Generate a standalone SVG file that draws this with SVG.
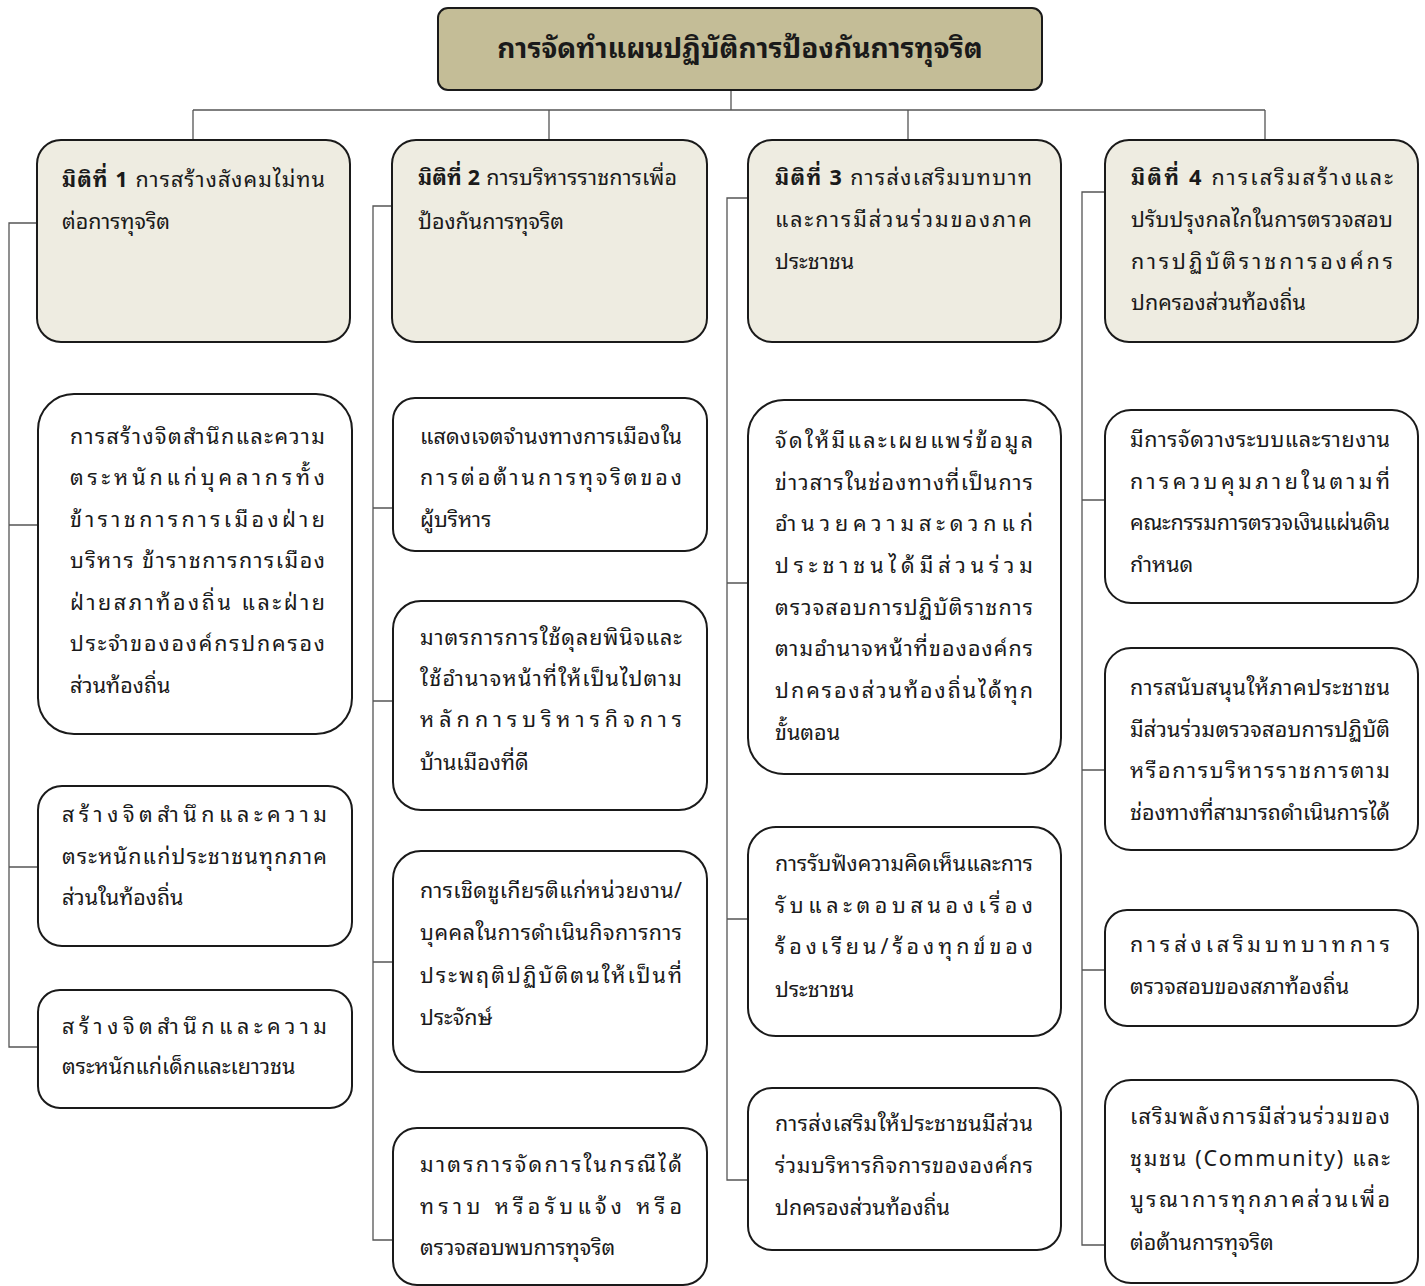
<svg xmlns="http://www.w3.org/2000/svg" width="1425" height="1286" viewBox="0 0 1425 1286">
<style>
text{font-family:"Noto Sans Thai Looped","Tahoma","Noto Sans Thai","Noto Sans Thai UI","Loma","Garuda","Noto Sans",sans-serif;font-size:21.5px;fill:#1a1a1a}
.title{font-size:28px;font-weight:bold;text-anchor:middle}
.b{font-weight:bold}
.hdr{fill:#EEECE1;stroke:#1a1a1a;stroke-width:2}
.box{fill:#ffffff;stroke:#1a1a1a;stroke-width:2}
.top{fill:#C4BD97;stroke:#1a1a1a;stroke-width:2}
.conn{fill:none;stroke:#555555;stroke-width:1.3}
</style>
<g id="connectors" class="conn">
<path d="M731 90V110M193 110H1265M193 110V140M549 110V140M908 110V140M1265 110V140"/>
<path d="M37 223H9V1047H38M9 525H38M9 867H38"/>
<path d="M392 206H373V1240H393M373 508H393M373 701H393M373 962H393"/>
<path d="M748 198H727V1180H748M727 583H748M727 919H748"/>
<path d="M1105 192H1082V1245H1105M1082 500H1105M1082 770H1105M1082 970H1105"/>
</g>
<g id="title"><rect class="top" x="438" y="8" width="604" height="82" rx="10"/><text class="title" x="740" y="58">การจัดทำแผนปฏิบัติการป้องกันการทุจริต</text></g>

<g id="h1"><rect class="hdr" x="37" y="140" width="313" height="202" rx="24"/>
<text x="62" y="187" textLength="263" lengthAdjust="spacing"><tspan class="b">มิติที่ 1</tspan> การสร้างสังคมไม่ทน</text>
<text x="62" y="229">ต่อการทุจริต</text></g>
<g id="h2"><rect class="hdr" x="392" y="140" width="315" height="202" rx="24"/>
<text x="418" y="185" textLength="259" lengthAdjust="spacing"><tspan class="b">มิติที่ 2</tspan> การบริหารราชการเพื่อ</text>
<text x="418" y="229">ป้องกันการทุจริต</text></g>
<g id="h3"><rect class="hdr" x="748" y="140" width="313" height="202" rx="24"/>
<text x="775" y="185" textLength="257" lengthAdjust="spacing"><tspan class="b">มิติที่ 3</tspan> การส่งเสริมบทบาท</text>
<text x="775" y="227" textLength="257" lengthAdjust="spacing">และการมีส่วนร่วมของภาค</text>
<text x="775" y="269">ประชาชน</text></g>
<g id="h4"><rect class="hdr" x="1105" y="140" width="313" height="202" rx="24"/>
<text x="1131" y="185" textLength="262" lengthAdjust="spacing"><tspan class="b">มิติที่ 4</tspan> การเสริมสร้างและ</text>
<text x="1131" y="227" textLength="262" lengthAdjust="spacing">ปรับปรุงกลไกในการตรวจสอบ</text>
<text x="1131" y="269" textLength="262" lengthAdjust="spacing">การปฏิบัติราชการองค์กร</text>
<text x="1131" y="310">ปกครองส่วนท้องถิ่น</text></g>

<g id="c1b1"><rect class="box" x="38" y="394" width="314" height="340" rx="36"/>
<text x="70" y="444" textLength="255" lengthAdjust="spacing">การสร้างจิตสำนึกและความ</text>
<text x="70" y="485" textLength="255" lengthAdjust="spacing">ตระหนักแก่บุคลากรทั้ง</text>
<text x="70" y="527" textLength="255" lengthAdjust="spacing">ข้าราชการการเมืองฝ่าย</text>
<text x="70" y="568" textLength="255" lengthAdjust="spacing">บริหาร ข้าราชการการเมือง</text>
<text x="70" y="610" textLength="255" lengthAdjust="spacing">ฝ่ายสภาท้องถิ่น และฝ่าย</text>
<text x="70" y="651" textLength="255" lengthAdjust="spacing">ประจำขององค์กรปกครอง</text>
<text x="70" y="693">ส่วนท้องถิ่น</text></g>
<g id="c1b2"><rect class="box" x="38" y="786" width="314" height="160" rx="24"/>
<text x="62" y="822" textLength="265" lengthAdjust="spacing">สร้างจิตสำนึกและความ</text>
<text x="62" y="864" textLength="265" lengthAdjust="spacing">ตระหนักแก่ประชาชนทุกภาค</text>
<text x="62" y="905">ส่วนในท้องถิ่น</text></g>
<g id="c1b3"><rect class="box" x="38" y="990" width="314" height="118" rx="22"/>
<text x="62" y="1034" textLength="265" lengthAdjust="spacing">สร้างจิตสำนึกและความ</text>
<text x="62" y="1074">ตระหนักแก่เด็กและเยาวชน</text></g>

<g id="c2b1"><rect class="box" x="393" y="398" width="314" height="153" rx="22"/>
<text x="420" y="444" textLength="262" lengthAdjust="spacing">แสดงเจตจำนงทางการเมืองใน</text>
<text x="420" y="485" textLength="262" lengthAdjust="spacing">การต่อต้านการทุจริตของ</text>
<text x="420" y="527">ผู้บริหาร</text></g>
<g id="c2b2"><rect class="box" x="393" y="601" width="314" height="209" rx="28"/>
<text x="420" y="645" textLength="262" lengthAdjust="spacing">มาตรการการใช้ดุลยพินิจและ</text>
<text x="420" y="686" textLength="262" lengthAdjust="spacing">ใช้อำนาจหน้าที่ให้เป็นไปตาม</text>
<text x="420" y="727" textLength="262" lengthAdjust="spacing">หลักการบริหารกิจการ</text>
<text x="420" y="770">บ้านเมืองที่ดี</text></g>
<g id="c2b3"><rect class="box" x="393" y="851" width="314" height="221" rx="28"/>
<text x="420" y="898" textLength="262" lengthAdjust="spacing">การเชิดชูเกียรติแก่หน่วยงาน/</text>
<text x="420" y="940" textLength="262" lengthAdjust="spacing">บุคคลในการดำเนินกิจการการ</text>
<text x="420" y="983" textLength="262" lengthAdjust="spacing">ประพฤติปฏิบัติตนให้เป็นที่</text>
<text x="420" y="1025">ประจักษ์</text></g>
<g id="c2b4"><rect class="box" x="393" y="1128" width="314" height="157" rx="24"/>
<text x="420" y="1172" textLength="262" lengthAdjust="spacing">มาตรการจัดการในกรณีได้</text>
<text x="420" y="1214" textLength="262" lengthAdjust="spacing">ทราบ หรือรับแจ้ง หรือ</text>
<text x="420" y="1255">ตรวจสอบพบการทุจริต</text></g>

<g id="c3b1"><rect class="box" x="748" y="400" width="313" height="374" rx="36"/>
<text x="775" y="448" textLength="258" lengthAdjust="spacing">จัดให้มีและเผยแพร่ข้อมูล</text>
<text x="775" y="490" textLength="258" lengthAdjust="spacing">ข่าวสารในช่องทางที่เป็นการ</text>
<text x="775" y="531" textLength="258" lengthAdjust="spacing">อำนวยความสะดวกแก่</text>
<text x="775" y="573" textLength="258" lengthAdjust="spacing">ประชาชนได้มีส่วนร่วม</text>
<text x="775" y="615" textLength="258" lengthAdjust="spacing">ตรวจสอบการปฏิบัติราชการ</text>
<text x="775" y="656" textLength="258" lengthAdjust="spacing">ตามอำนาจหน้าที่ขององค์กร</text>
<text x="775" y="698" textLength="258" lengthAdjust="spacing">ปกครองส่วนท้องถิ่นได้ทุก</text>
<text x="775" y="740">ขั้นตอน</text></g>
<g id="c3b2"><rect class="box" x="748" y="827" width="313" height="209" rx="28"/>
<text x="775" y="871" textLength="258" lengthAdjust="spacing">การรับฟังความคิดเห็นและการ</text>
<text x="775" y="913" textLength="258" lengthAdjust="spacing">รับและตอบสนองเรื่อง</text>
<text x="775" y="954" textLength="258" lengthAdjust="spacing">ร้องเรียน/ร้องทุกข์ของ</text>
<text x="775" y="997">ประชาชน</text></g>
<g id="c3b3"><rect class="box" x="748" y="1088" width="313" height="162" rx="24"/>
<text x="775" y="1131" textLength="258" lengthAdjust="spacing">การส่งเสริมให้ประชาชนมีส่วน</text>
<text x="775" y="1173" textLength="258" lengthAdjust="spacing">ร่วมบริหารกิจการขององค์กร</text>
<text x="775" y="1215">ปกครองส่วนท้องถิ่น</text></g>

<g id="c4b1"><rect class="box" x="1105" y="410" width="313" height="193" rx="26"/>
<text x="1130" y="447" textLength="260" lengthAdjust="spacing">มีการจัดวางระบบและรายงาน</text>
<text x="1130" y="489" textLength="260" lengthAdjust="spacing">การควบคุมภายในตามที่</text>
<text x="1130" y="530" textLength="260" lengthAdjust="spacing">คณะกรรมการตรวจเงินแผ่นดิน</text>
<text x="1130" y="572">กำหนด</text></g>
<g id="c4b2"><rect class="box" x="1105" y="648" width="313" height="202" rx="26"/>
<text x="1130" y="695" textLength="260" lengthAdjust="spacing">การสนับสนุนให้ภาคประชาชน</text>
<text x="1130" y="737" textLength="260" lengthAdjust="spacing">มีส่วนร่วมตรวจสอบการปฏิบัติ</text>
<text x="1130" y="778" textLength="260" lengthAdjust="spacing">หรือการบริหารราชการตาม</text>
<text x="1130" y="820" textLength="260" lengthAdjust="spacing">ช่องทางที่สามารถดำเนินการได้</text></g>
<g id="c4b3"><rect class="box" x="1105" y="910" width="313" height="116" rx="22"/>
<text x="1130" y="952" textLength="260" lengthAdjust="spacing">การส่งเสริมบทบาทการ</text>
<text x="1130" y="994">ตรวจสอบของสภาท้องถิ่น</text></g>
<g id="c4b4"><rect class="box" x="1105" y="1080" width="313" height="203" rx="26"/>
<text x="1130" y="1124" textLength="260" lengthAdjust="spacing">เสริมพลังการมีส่วนร่วมของ</text>
<text x="1130" y="1166" textLength="260" lengthAdjust="spacing">ชุมชน (Community) และ</text>
<text x="1130" y="1207" textLength="260" lengthAdjust="spacing">บูรณาการทุกภาคส่วนเพื่อ</text>
<text x="1130" y="1250">ต่อต้านการทุจริต</text></g>
</svg>
